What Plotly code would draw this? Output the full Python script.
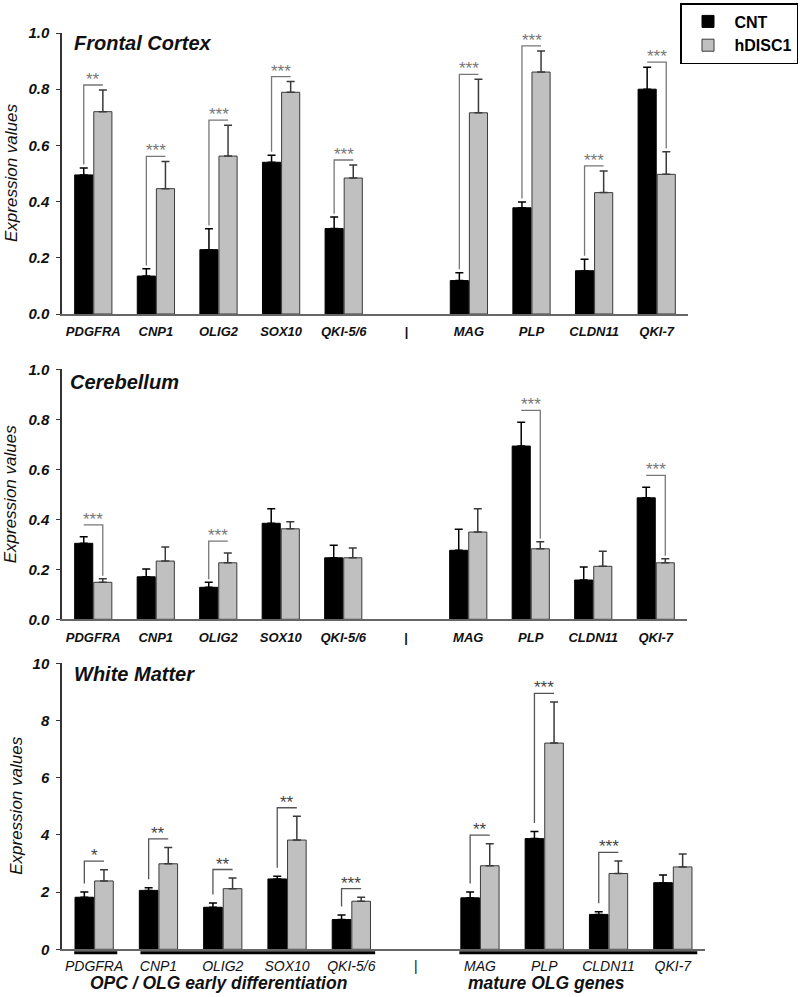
import plotly.graph_objects as go

# ---------------- data ----------------
genes = ["PDGFRA", "CNP1", "OLIG2", "SOX10", "QKI-5/6", "MAG", "PLP", "CLDN11", "QKI-7"]
divider_label = "|"

fc_cnt = [0.495, 0.135, 0.229, 0.540, 0.304, 0.119, 0.378, 0.154, 0.800]
fc_cnt_err = [0.025, 0.026, 0.074, 0.025, 0.041, 0.028, 0.021, 0.041, 0.078]
fc_hd = [0.720, 0.446, 0.562, 0.789, 0.484, 0.716, 0.861, 0.432, 0.497]
fc_hd_err = [0.077, 0.097, 0.110, 0.038, 0.046, 0.119, 0.075, 0.077, 0.080]
fc_sig = ["**", "***", "***", "***", "***", "***", "***", "***", "***"]

cb_cnt = [0.304, 0.170, 0.128, 0.384, 0.246, 0.276, 0.693, 0.157, 0.486]
cb_cnt_err = [0.026, 0.031, 0.020, 0.058, 0.050, 0.084, 0.095, 0.052, 0.042]
cb_hd = [0.148, 0.233, 0.226, 0.362, 0.246, 0.349, 0.282, 0.212, 0.226]
cb_hd_err = [0.014, 0.056, 0.039, 0.028, 0.039, 0.093, 0.028, 0.060, 0.016]
cb_sig = ["***", "", "***", "", "", "", "***", "", "***"]

wm_cnt = [1.82, 2.06, 1.47, 2.46, 1.04, 1.80, 3.87, 1.22, 2.33]
wm_cnt_err = [0.18, 0.09, 0.15, 0.09, 0.16, 0.20, 0.25, 0.09, 0.27]
wm_hd = [2.39, 2.99, 2.12, 3.82, 1.68, 2.92, 7.21, 2.65, 2.88]
wm_hd_err = [0.39, 0.57, 0.37, 0.83, 0.14, 0.77, 1.44, 0.44, 0.45]
wm_sig = ["*", "**", "**", "**", "***", "**", "***", "***", ""]

panel_titles = ["Frontal Cortex", "Cerebellum", "White Matter"]
group_labels = ["OPC / OLG early differentiation", "mature OLG genes"]
series_names = ["CNT", "hDISC1"]

# ---------------- layout helpers ----------------
W, H = 800, 997
FONT = "Liberation Sans, Arial, sans-serif"
n_early = 5
pos = [i if i < n_early else i + 1 for i in range(len(genes))]
tickvals = list(range(len(genes) + 1))
ticktext = genes[:n_early] + [divider_label] + genes[n_early:]

BARGAP = 0.39
BARGROUPGAP = 0.05
half_off = (1 - BARGAP) / 4  # center offset of each bar in a pair


def py(p):  # pixel row -> paper
    return 1 - p / H


panels = [
    dict(cnt=fc_cnt, ce=fc_cnt_err, hd=fc_hd, he=fc_hd_err, sig=fc_sig,
         yr=[0, 1.0], dt=0.2, fmt=".1f", dom_x=[62 / W, 688 / W], dom_y=[py(314), py(33)],
         lvl_pad=0.018, foot_pad=0.012, bold=True, tsize=13, tstand=5,
         title_xy=(72, 43), ytitle_x=11.5, line_col="#777777", star_col="#777777"),
    dict(cnt=cb_cnt, ce=cb_cnt_err, hd=cb_hd, he=cb_hd_err, sig=cb_sig,
         yr=[0, 1.0], dt=0.2, fmt=".1f", dom_x=[62 / W, 687 / W], dom_y=[py(619.3), py(369.3)],
         lvl_pad=0.048, foot_pad=0.012, bold=True, tsize=13, tstand=5,
         title_xy=(68, 382), ytitle_x=10, line_col="#777777", star_col="#777777"),
    dict(cnt=wm_cnt, ce=wm_cnt_err, hd=wm_hd, he=wm_hd_err, sig=wm_sig,
         yr=[0, 10], dt=2, fmt="d", dom_x=[62 / W, 705 / W], dom_y=[py(949.3), py(663.3)],
         lvl_pad=0.3, foot_pad=0.3, bold=False, tsize=14, tstand=3,
         title_xy=(72, 674), ytitle_x=16.5, line_col="#555555", star_col="#444444"),
]

fig = go.Figure()
annotations = []
shapes = []

for k, p in enumerate(panels):
    xa = "x" if k == 0 else f"x{k+1}"
    ya = "y" if k == 0 else f"y{k+1}"
    zeros = [0] * len(genes)
    fig.add_trace(go.Bar(
        x=pos, y=p["cnt"], name=series_names[0], legendgroup="cnt", showlegend=(k == 0),
        marker=dict(color="#000000", line=dict(color="#000000", width=1)),
        error_y=dict(type="data", symmetric=False, array=p["ce"], arrayminus=zeros,
                     color="#000000", thickness=1.5, width=4),
        xaxis=xa, yaxis=ya))
    fig.add_trace(go.Bar(
        x=pos, y=p["hd"], name=series_names[1], legendgroup="hd", showlegend=(k == 0),
        marker=dict(color="#c0c0c0", line=dict(color="#3a3a3a", width=1)),
        error_y=dict(type="data", symmetric=False, array=p["he"], arrayminus=zeros,
                     color="#3a3a3a", thickness=1.5, width=4),
        xaxis=xa, yaxis=ya))

    # significance brackets
    bx, by = [], []
    for i, s in enumerate(p["sig"]):
        if not s:
            continue
        t_c = p["cnt"][i] + p["ce"][i]
        t_h = p["hd"][i] + p["he"][i]
        level = max(t_c, t_h) + p["lvl_pad"]
        xc = pos[i] - half_off
        xh = pos[i] + half_off
        if t_c <= t_h:
            bx += [xc, xc, xh, None]
            by += [t_c + p["foot_pad"], level, level, None]
        else:
            bx += [xc, xh, xh, None]
            by += [level, level, t_h + p["foot_pad"], None]
        annotations.append(dict(x=pos[i], y=level, xref=xa, yref=ya, text=s, showarrow=False,
                                xanchor="center", yanchor="bottom", yshift=-6,
                                font=dict(family=FONT, size=17, color=p["star_col"])))
    fig.add_trace(go.Scatter(x=bx, y=by, mode="lines", showlegend=False, hoverinfo="skip",
                             line=dict(color=p["line_col"], width=1.3),
                             xaxis=xa, yaxis=ya))

    sfx = "" if k == 0 else str(k + 1)
    fig.layout["xaxis" + sfx] = dict(
        domain=p["dom_x"], anchor=ya, range=[-0.5, len(genes) + 0.5], automargin=False,
        tickmode="array", tickvals=tickvals, ticktext=ticktext, ticks="",
        showline=True, linecolor="#666666", linewidth=1.5, showgrid=False, zeroline=False,
        ticklabelstandoff=p["tstand"],
        tickfont=dict(family=FONT, size=p["tsize"], color="#111111", style="italic",
                      weight="bold" if p["bold"] else "normal"))
    fig.layout["yaxis" + sfx] = dict(
        domain=p["dom_y"], anchor=xa, range=p["yr"], dtick=p["dt"], tick0=0, tickformat=p["fmt"],
        automargin=False,
        ticks="outside", ticklen=4, tickwidth=1.2, tickcolor="#333333",
        showline=True, linecolor="#333333", linewidth=1.5, showgrid=False, zeroline=False,
        ticklabelstandoff=4,
        tickfont=dict(family=FONT, size=15, color="#111111", style="italic", weight="bold"))

    # panel title
    tx, ty = p["title_xy"]
    annotations.append(dict(x=tx / W, y=py(ty), xref="paper", yref="paper", text=panel_titles[k],
                            showarrow=False, xanchor="left", yanchor="middle",
                            font=dict(family=FONT, size=20, color="#111111", style="italic",
                                      weight="bold")))
    # y-axis title
    annotations.append(dict(x=p["ytitle_x"] / W, y=sum(p["dom_y"]) / 2, xref="paper", yref="paper",
                            text="Expression values", textangle=-90, showarrow=False,
                            xanchor="center", yanchor="middle",
                            font=dict(family=FONT, size=17, color="#111111", style="italic")))

# group underlines in bottom panel
for (x0, x1) in [(-0.31, 0.36), (0.72, 4.37), (5.68, 9.38)]:
    shapes.append(dict(type="line", xref="x3", yref="paper", x0=x0, x1=x1,
                       y0=py(952.7), y1=py(952.7), line=dict(color="#000000", width=3)))

# group labels
for lbl, cx in zip(group_labels, [218.5, 546]):
    annotations.append(dict(x=cx / W, y=py(983), xref="paper", yref="paper", text=lbl,
                            showarrow=False, xanchor="center", yanchor="middle",
                            font=dict(family=FONT, size=17.5, color="#111111", style="italic",
                                      weight="bold")))

fig.update_layout(
    width=W, height=H, margin=dict(l=0, r=0, t=0, b=0, autoexpand=False),
    paper_bgcolor="white", plot_bgcolor="white",
    barmode="group", bargap=BARGAP, bargroupgap=BARGROUPGAP,
    annotations=annotations, shapes=shapes,
    legend=dict(x=680 / W, y=py(3), xanchor="left", yanchor="top",
                bordercolor="#000000", borderwidth=1.5, bgcolor="white",
                font=dict(family=FONT, size=16, color="#000000", weight="bold"),
                itemwidth=43, tracegroupgap=0),
    showlegend=True,
)

fig.write_html("out.html", config={"displayModeBar": False},
               post_script="document.body.style.margin='0';document.body.style.overflow='hidden';")
